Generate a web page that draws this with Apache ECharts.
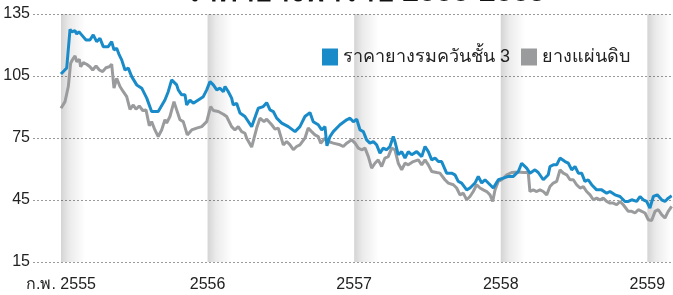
<!DOCTYPE html>
<html>
<head>
    <meta charset="utf-8">
    <title>Rubber price</title>
    <script src="https://cdn.jsdelivr.net/npm/echarts@6/dist/echarts.min.js"></script>
    <style>
        html, body { margin: 0; padding: 0; background: #fff; }
        #main { width: 673px; height: 295px; }
    </style>
</head>
<body>
<div id="main"></div>
<script type="text/javascript">
// months counted from ก.พ. 2555
var monthTicks = [0, 12, 24, 36, 48];
var yearLabels = ['ก.พ. 2555', '2556', '2557', '2558', '2559'];

var seriesNames = ['ราคายางรมควันชั้น 3', 'ยางแผ่นดิบ'];

// ราคายางรมควันชั้น 3
var rssMonth = [0, 0.47, 0.74, 0.88, 1.15, 1.29, 1.47, 1.69, 1.83, 2.05, 2.37, 2.64, 2.92, 3.19, 3.46, 3.87, 4.15, 4.34, 4.56, 4.77,
    4.97, 5.24, 5.51, 5.79, 6.2, 6.61, 7.02, 7.42, 7.96, 8.1, 8.51, 8.78, 9.06, 9.47, 9.6, 9.88, 10.15, 10.29, 10.56, 10.83,
    11.24, 11.65, 11.93, 12.2, 12.47, 12.75, 13.02, 13.29, 13.43, 13.7, 13.97, 14.1, 14.38, 14.65, 15.06, 15.61, 16.15, 16.56, 16.84, 17.11,
    17.38, 17.66, 18.07, 18.61, 19.16, 19.56, 19.97, 20.38, 20.65, 21.06, 21.34, 21.61, 21.77, 22.02, 22.29, 22.84, 23.39, 23.66, 23.93, 24.21,
    24.48, 24.75, 25.02, 25.29, 25.57, 25.84, 26.11, 26.38, 26.66, 26.93, 27.2, 27.34, 27.61, 27.89, 28.16, 28.43, 28.71, 29.12, 29.53, 29.8,
    30.07, 30.35, 30.62, 30.89, 31.16, 31.57, 31.98, 32.25, 32.52, 32.8, 33.21, 33.48, 33.89, 34.16, 34.44, 34.71, 34.98, 35.39, 35.8, 36.21,
    36.62, 37.03, 37.44, 37.71, 38.12, 38.39, 38.8, 39.07, 39.48, 39.89, 40.03, 40.3, 40.58, 40.85, 40.99, 41.26, 41.53, 41.81, 42.08, 42.35,
    42.62, 42.89, 43.16, 43.44, 43.85, 44.26, 44.67, 44.94, 45.35, 45.76, 46.17, 46.44, 46.72, 47.13, 47.4, 47.67, 47.94, 48.21, 48.49, 48.81,
    49.17, 49.44, 49.71, 49.99];
var rssPrice = [106.0, 108.9, 127.6, 126.4, 126.9, 125.3, 126.4, 124.9, 125.7, 122.4, 122.4, 124.9, 121.6, 123.3, 119.2, 119.2, 121.6, 117.6, 118.4, 115.2,
    112.8, 107.9, 108.8, 104.7, 100.7, 99.1, 94.3, 87.8, 87.8, 87.0, 93.4, 97.4, 103.1, 100.7, 98.3, 95.9, 95.9, 91.0, 93.4, 91.8,
    93.4, 95.0, 98.3, 102.3, 100.7, 98.3, 99.1, 97.4, 99.9, 97.4, 94.3, 91.0, 91.8, 87.1, 85.4, 80.5, 89.4, 90.2, 92.1, 88.6,
    87.8, 84.6, 82.2, 80.5, 78.1, 80.5, 85.4, 87.3, 82.9, 81.4, 78.9, 80.5, 71.2, 75.7, 78.1, 81.4, 83.8, 84.6, 82.9, 84.1,
    78.9, 78.1, 74.1, 72.5, 73.3, 71.7, 67.7, 70.1, 69.3, 70.9, 75.7, 73.3, 66.9, 68.4, 65.3, 68.4, 66.9, 68.4, 66.0, 70.9,
    68.4, 64.4, 65.3, 63.6, 63.6, 58.0, 58.0, 57.2, 54.0, 53.2, 49.9, 50.8, 53.2, 56.4, 53.2, 54.8, 53.2, 50.8, 54.8, 55.6,
    56.4, 56.4, 58.8, 62.8, 60.4, 58.0, 59.6, 58.3, 54.8, 57.2, 61.2, 62.0, 62.0, 65.3, 65.3, 63.6, 62.8, 59.6, 61.2, 58.0,
    58.0, 54.0, 54.8, 52.4, 49.9, 49.9, 48.3, 49.1, 47.5, 46.7, 44.3, 44.3, 45.1, 44.3, 46.7, 45.1, 44.3, 41.1, 46.7, 47.5,
    45.1, 44.3, 45.9, 47.0];

// ยางแผ่นดิบ
var ussMonth = [0, 0.33, 0.6, 0.79, 0.96, 1.15, 1.29, 1.5, 1.61, 1.83, 2.1, 2.37, 2.6, 2.87, 3.14, 3.41, 3.68, 3.95, 4.15, 4.34,
    4.56, 4.83, 5.1, 5.38, 5.65, 5.92, 6.14, 6.41, 6.69, 6.96, 7.23, 7.42, 7.69, 7.96, 8.24, 8.51, 8.65, 8.92, 9.25, 9.47,
    9.74, 10.01, 10.34, 10.7, 11.11, 11.52, 11.93, 12.25, 12.47, 12.88, 13.29, 13.56, 13.97, 14.24, 14.51, 14.79, 15.06, 15.2, 15.61, 16.02,
    16.29, 16.62, 16.84, 17.25, 17.52, 17.79, 18.2, 18.48, 18.75, 19.02, 19.29, 19.56, 19.97, 20.24, 20.52, 20.79, 21.06, 21.26, 21.61, 21.88,
    22.29, 22.84, 23.11, 23.39, 23.8, 24.07, 24.34, 24.61, 24.89, 25.16, 25.43, 25.7, 25.97, 26.25, 26.52, 26.79, 27.07, 27.34, 27.61, 27.89,
    28.16, 28.43, 28.84, 29.25, 29.53, 29.8, 30.07, 30.35, 30.76, 31.02, 31.43, 31.71, 32.12, 32.39, 32.66, 32.93, 33.21, 33.48, 33.75, 34.03,
    34.3, 34.57, 34.85, 35.12, 35.34, 35.53, 35.8, 36.08, 36.49, 36.89, 37.44, 37.85, 38.25, 38.39, 38.66, 38.94, 39.21, 39.48, 39.76, 40.03,
    40.3, 40.58, 40.85, 41.12, 41.4, 41.67, 41.94, 42.21, 42.49, 42.76, 43.03, 43.31, 43.58, 43.85, 44.12, 44.39, 44.67, 44.94, 45.21, 45.49,
    45.76, 46.03, 46.44, 46.72, 46.99, 47.26, 47.54, 47.81, 48.08, 48.35, 48.63, 48.9, 49.17, 49.44, 49.71, 49.99];
var ussPrice = [89.4, 92.6, 99.9, 111.2, 113.1, 114.7, 111.9, 113.1, 109.5, 111.5, 110.7, 109.5, 107.9, 109.9, 107.9, 107.1, 109.0, 109.5, 110.7, 99.1,
    103.9, 99.9, 97.4, 95.0, 88.9, 91.0, 88.9, 90.5, 88.3, 88.6, 80.9, 82.9, 78.9, 75.7, 78.9, 83.8, 82.2, 85.4, 92.6, 88.6,
    83.8, 82.9, 76.5, 78.9, 79.8, 80.5, 82.9, 90.2, 88.3, 87.8, 86.5, 85.4, 80.5, 78.9, 80.5, 78.1, 77.3, 74.9, 70.6, 79.8,
    84.6, 82.9, 84.1, 81.4, 79.3, 79.8, 71.7, 73.3, 71.7, 69.3, 70.9, 71.7, 74.9, 79.8, 78.1, 76.5, 75.7, 72.5, 74.9, 73.3,
    72.5, 71.7, 70.9, 72.5, 74.1, 72.5, 70.1, 69.3, 70.1, 66.0, 60.4, 62.8, 64.4, 61.2, 65.3, 66.0, 70.1, 69.3, 62.8, 59.6,
    62.8, 62.0, 63.6, 64.4, 62.0, 64.4, 62.0, 58.8, 58.3, 58.0, 54.8, 53.2, 52.4, 50.8, 47.5, 48.3, 45.1, 46.7, 49.1, 52.4,
    50.8, 49.9, 49.1, 47.5, 44.3, 49.9, 54.0, 54.8, 57.2, 58.3, 58.5, 58.3, 58.3, 49.1, 49.9, 49.1, 49.9, 49.1, 47.5, 51.5,
    53.2, 54.0, 59.6, 58.0, 57.2, 54.8, 54.8, 52.4, 50.8, 51.5, 49.1, 47.5, 45.1, 45.9, 45.1, 45.9, 44.3, 43.5, 43.5, 42.7,
    44.3, 42.7, 39.5, 39.5, 38.7, 40.3, 39.5, 38.7, 35.4, 35.1, 39.5, 40.3, 37.9, 36.3, 39.5, 41.9];

function zip(xs, ys) {
    var out = [];
    for (var i = 0; i < xs.length; i++) out.push([xs[i], ys[i]]);
    return out;
}

var narrow = "'Liberation Sans Narrow', 'Liberation Sans', sans-serif";

// grey shading right after each year mark
var bands = monthTicks.map(function (m) {
    return [{ xAxis: m }, { xAxis: m + 2 }];
});

var myChart = echarts.init(document.getElementById('main'));
var option = {
    animation: false,
    backgroundColor: '#fff',
    textStyle: { fontFamily: narrow },
    graphic: [
        { type: 'text', left: 185, top: -22, style: { text: 'ราคายางพาราปี 2555-2559', fontSize: 30, fontWeight: 'bold', fill: '#111', fontFamily: narrow } },
        { type: 'text', right: 8, top: -12, style: { text: 'หน่วย : บาท/กิโลกรัม', fontSize: 16, fill: '#777', fontFamily: narrow } }
    ],
    legend: [
        {
            data: [seriesNames[0]], left: 317, top: 43, icon: 'rect', itemWidth: 16, itemHeight: 17,
            textStyle: { fontSize: 18, color: '#222', fontFamily: narrow }
        },
        {
            data: [seriesNames[1]], left: 516, top: 43, icon: 'rect', itemWidth: 16, itemHeight: 17,
            textStyle: { fontSize: 18, color: '#222', fontFamily: narrow }
        }
    ],
    grid: { left: 33, right: 0, top: 14, bottom: 33, containLabel: false },
    xAxis: {
        type: 'value',
        min: -2.29,
        max: 50.1,
        axisLine: { show: false },
        axisTick: { show: false },
        splitLine: { show: false },
        axisLabel: {
            customValues: monthTicks,
            margin: 15,
            fontSize: 16,
            color: '#222',
            fontFamily: narrow,
            formatter: function (v) {
                var i = monthTicks.indexOf(v);
                return i >= 0 ? yearLabels[i] : '';
            }
        }
    },
    yAxis: {
        type: 'value',
        min: 15,
        max: 135,
        interval: 30,
        axisLine: { show: false },
        axisTick: { show: false },
        axisLabel: { margin: 3, fontSize: 16, color: '#222', fontFamily: narrow },
        splitLine: { lineStyle: { color: '#9a9a9a', type: [2, 2], width: 1 } }
    },
    series: [
        {
            name: seriesNames[1],
            type: 'line',
            data: zip(ussMonth, ussPrice),
            showSymbol: false,
            z: 2,
            lineStyle: { color: '#9a9b9d', width: 3 },
            itemStyle: { color: '#9a9b9d' },
            markArea: {
                silent: true,
                itemStyle: {
                    color: {
                        type: 'linear', x: 0, y: 0, x2: 1, y2: 0,
                        colorStops: [
                            { offset: 0, color: 'rgba(0,0,0,0.17)' },
                            { offset: 0.35, color: 'rgba(0,0,0,0.08)' },
                            { offset: 1, color: 'rgba(0,0,0,0)' }
                        ]
                    }
                },
                data: bands
            }
        },
        {
            name: seriesNames[0],
            type: 'line',
            data: zip(rssMonth, rssPrice),
            showSymbol: false,
            z: 3,
            lineStyle: { color: '#1a8bc9', width: 3 },
            itemStyle: { color: '#1a8bc9' }
        }
    ]
};
myChart.setOption(option);
</script>
</body>
</html>
